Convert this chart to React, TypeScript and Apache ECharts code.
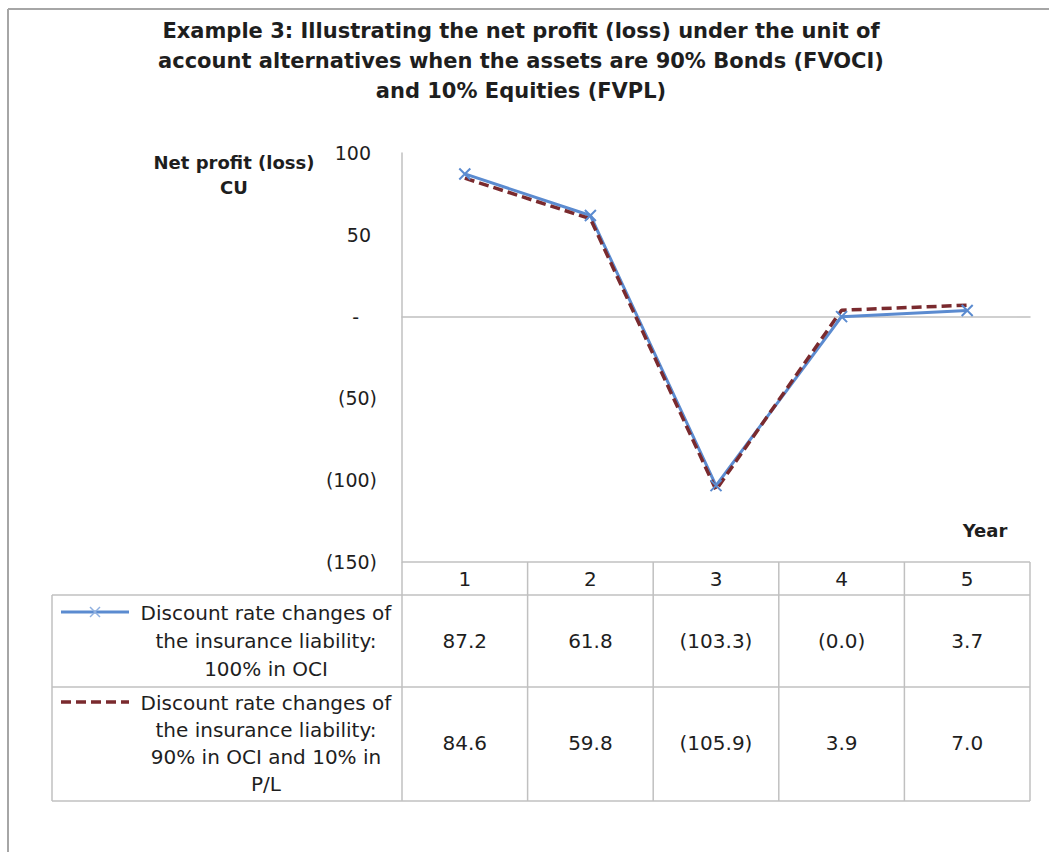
import React, { useEffect, useRef } from 'react';
import * as echarts from 'echarts';

const years = ['1', '2', '3', '4', '5'];
const oci100 = [87.2, 61.8, -103.3, -0.02, 3.7];
const oci90 = [84.6, 59.8, -105.9, 3.9, 7.0];
const yMin = -150;
const yMax = 100;
const yStep = 50;
const titleLines = [
  'Example 3: Illustrating the net profit (loss) under the unit of',
  'account alternatives when the assets are 90% Bonds (FVOCI)',
  'and 10% Equities (FVPL)',
];
const yAxisTitle = ['Net profit (loss)', 'CU'];
const xAxisTitle = 'Year';
const series1Label = ['Discount rate changes of', 'the insurance liability:', '100% in OCI'];
const series2Label = ['Discount rate changes of', 'the insurance liability:', '90% in OCI and 10% in', 'P/L'];

const BLUE = '#5b8bd0';
const RED = '#7a2a2e';
const GRID_LINE = '#c0c0c0';
const TEXT = '#1e1e1e';
const FONT = '"DejaVu Sans", sans-serif';

const fmt = (v: number) => (v < 0 ? `(${Math.abs(v).toFixed(1)})` : v.toFixed(1));

export default function App() {
  const ref = useRef<HTMLDivElement>(null);
  useEffect(() => {
    document.body.style.margin = '0';
    const chart = echarts.init(ref.current!, undefined, { renderer: 'svg' });
    const gL = 402, gT = 153, gW = 628, gH = 409;
    const gB = gT + gH;
    const tableLeft = 52;
    const rowY = [gB, 595, 687, 801];
    const colW = gW / years.length;
    const lineStyle = { stroke: GRID_LINE, lineWidth: 1.5 };
    const graphics: any[] = [];
    // frame
    graphics.push({ type: 'line', shape: { x1: 8, y1: 9, x2: 1049, y2: 9 }, style: { stroke: '#a6a6a6', lineWidth: 2 } });
    graphics.push({ type: 'line', shape: { x1: 8, y1: 9, x2: 8, y2: 852 }, style: { stroke: '#a6a6a6', lineWidth: 2 } });
    titleLines.forEach((t, i) => {
      graphics.push({ type: 'text', x: 521, y: 31 + i * 30, style: { text: t, font: `bold 21px ${FONT}`, fill: TEXT, align: 'center', verticalAlign: 'middle' } });
    });
    yAxisTitle.forEach((t, i) => {
      graphics.push({ type: 'text', x: 234, y: 162 + i * 25, style: { text: t, font: `bold 18px ${FONT}`, fill: TEXT, align: 'center', verticalAlign: 'middle' } });
    });
    graphics.push({ type: 'text', x: 985, y: 530, style: { text: xAxisTitle, font: `bold 18px ${FONT}`, fill: TEXT, align: 'center', verticalAlign: 'middle' } });
    // table lines
    graphics.push({ type: 'line', shape: { x1: gL, y1: rowY[0], x2: gL + gW, y2: rowY[0] }, style: lineStyle });
    for (let r = 1; r < rowY.length; r++) {
      graphics.push({ type: 'line', shape: { x1: tableLeft, y1: rowY[r], x2: gL + gW, y2: rowY[r] }, style: lineStyle });
    }
    graphics.push({ type: 'line', shape: { x1: tableLeft, y1: rowY[1], x2: tableLeft, y2: rowY[3] }, style: lineStyle });
    for (let c = 0; c <= years.length; c++) {
      const x = gL + c * colW;
      graphics.push({ type: 'line', shape: { x1: x, y1: rowY[0], x2: x, y2: rowY[3] }, style: lineStyle });
    }
    // legend keys
    graphics.push({ type: 'line', shape: { x1: 61, y1: 612, x2: 129, y2: 612 }, style: { stroke: BLUE, lineWidth: 3 } });
    graphics.push({ type: 'line', shape: { x1: 90, y1: 607, x2: 100, y2: 617 }, style: { stroke: '#8fb0e0', lineWidth: 1.5 } });
    graphics.push({ type: 'line', shape: { x1: 100, y1: 607, x2: 90, y2: 617 }, style: { stroke: '#8fb0e0', lineWidth: 1.5 } });
    graphics.push({ type: 'line', shape: { x1: 61, y1: 702, x2: 129, y2: 702 }, style: { stroke: RED, lineWidth: 3.5, lineDash: [10, 5] } });
    series1Label.forEach((t, i) => {
      graphics.push({ type: 'text', x: 266, y: 613 + i * 28, style: { text: t, font: `20px ${FONT}`, fill: TEXT, align: 'center', verticalAlign: 'middle' } });
    });
    series2Label.forEach((t, i) => {
      graphics.push({ type: 'text', x: 266, y: 703 + i * 27, style: { text: t, font: `20px ${FONT}`, fill: TEXT, align: 'center', verticalAlign: 'middle' } });
    });

    const labelBase = { fontSize: 20, fontFamily: FONT, color: TEXT, verticalAlign: 'middle' };
    const hiddenAxis = {
      type: 'category', position: 'bottom', axisLine: { show: false }, axisTick: { show: false }, splitLine: { show: false },
    };
    const yRich = { fontSize: 19, fontFamily: FONT, color: TEXT };
    chart.setOption({
      animation: false,
      grid: { left: gL, top: gT, width: gW, height: gH, containLabel: false },
      xAxis: [
        { ...hiddenAxis, data: years, axisLabel: { ...labelBase, margin: 17 } },
        { ...hiddenAxis, data: oci100.map(fmt), axisLabel: { ...labelBase, margin: 79 } },
        { ...hiddenAxis, data: oci90.map(fmt), axisLabel: { ...labelBase, margin: 181 } },
        {
          type: 'category', data: years, axisLine: { show: true, onZero: true, onZeroAxisIndex: 0, lineStyle: { color: GRID_LINE, width: 1.5 } },
          axisTick: { show: false }, axisLabel: { show: false }, splitLine: { show: false },
        },
      ],
      yAxis: {
        type: 'value', min: yMin, max: yMax, interval: yStep,
        axisLine: { show: true, lineStyle: { color: GRID_LINE, width: 1.5 } },
        axisTick: { show: false }, splitLine: { show: false },
        axisLabel: {
          margin: 25,
          formatter: (v: number) => (v === 0 ? '{z|-}' : v < 0 ? `{n|(${-v})}` : `{p|${v}}`),
          rich: {
            p: { ...yRich, padding: [0, 6, 0, 0] },
            n: { ...yRich },
            z: { ...yRich, padding: [0, 18, 0, 0] },
          },
        },
      },
      series: [
        {
          type: 'line', name: series1Label.join(' '), data: oci100, xAxisIndex: 0,
          lineStyle: { color: BLUE, width: 3 }, itemStyle: { color: 'none', borderColor: BLUE, borderWidth: 2 },
          symbol: 'path://M0,0L10,10M10,0L0,10', symbolSize: 11, showSymbol: true,
        },
        {
          type: 'line', name: series2Label.join(' '), data: oci90, xAxisIndex: 0,
          lineStyle: { color: RED, width: 3.5, type: [10, 5] }, itemStyle: { color: RED }, symbol: 'none',
        },
      ],
      graphic: graphics,
    });
    return () => chart.dispose();
  }, []);
  return <div ref={ref} style={{ width: 1049, height: 852 }} />;
}
